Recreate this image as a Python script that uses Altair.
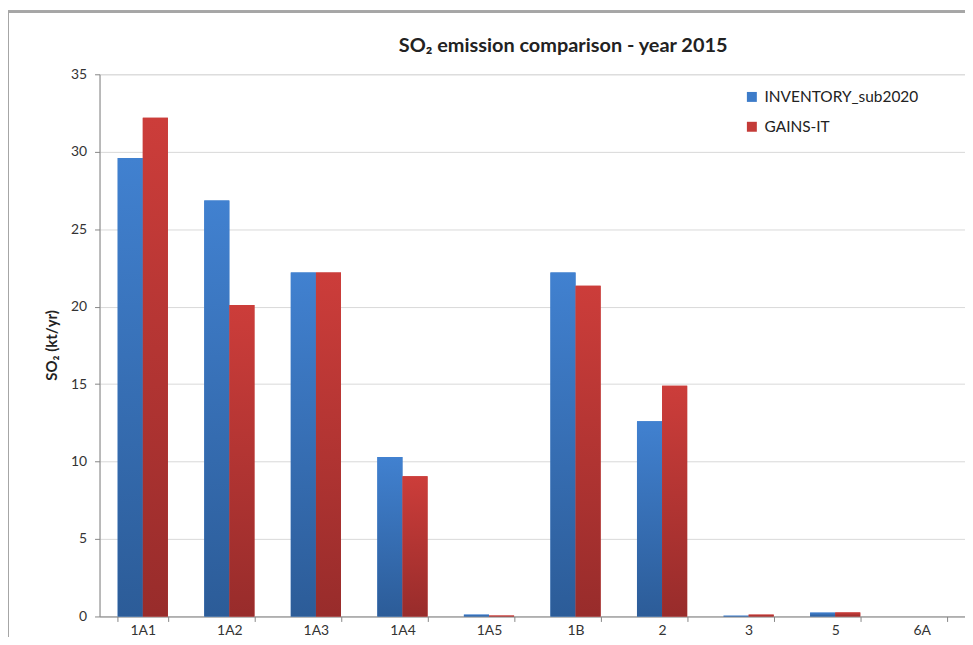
import altair as alt
import pandas as pd

categories = ["1A1", "1A2", "1A3", "1A4", "1A5", "1B", "2", "3", "5", "6A"]
inventory = [29.6, 26.85, 22.2, 10.3, 0.12, 22.2, 12.6, 0.05, 0.25, 0.0]
gains = [32.2, 20.1, 22.2, 9.05, 0.06, 21.35, 14.9, 0.12, 0.26, 0.0]
series = ["INVENTORY_sub2020", "GAINS-IT"]
y_ticks = [0, 5, 10, 15, 20, 25, 30, 35]
title_text = "SO₂ emission comparison - year 2015"

rows = []
for c, a, b in zip(categories, inventory, gains):
    rows.append({"cat": c, "series": series[0], "value": a})
    rows.append({"cat": c, "series": series[1], "value": b})
df = pd.DataFrame(rows)

FONT = "Lato"
AX = "#868686"

x_enc = alt.X("cat:N", sort=categories, title=None,
              scale=alt.Scale(paddingInner=0.42, paddingOuter=0.21),
              axis=alt.Axis(labelAngle=0, labelFontSize=14, labelFont=FONT,
                            labelColor="#333333", labelPadding=2,
                            tickBand="extent", tickSize=5, tickColor=AX,
                            domainColor=AX, grid=False))
xo_enc = alt.XOffset("series:N", sort=series, scale=alt.Scale(domain=series, paddingInner=0))
y_enc = alt.Y("value:Q", title="SO₂ (kt/yr)",
              scale=alt.Scale(domain=[0, 35], nice=False),
              axis=alt.Axis(values=y_ticks, labelFontSize=14, labelFont=FONT,
                            labelColor="#333333", labelPadding=8,
                            tickSize=5, tickColor=AX, domainColor=AX,
                            gridColor="#d9d9d9", titleFont=FONT, titleFontSize=15,
                            titleFontWeight="bold", titleColor="#222222",
                            titleX=-48, titleY=272, titleAngle=270,
                            titleAlign="center", titleBaseline="middle"))

base = alt.Chart(df).mark_bar().encode(
    x=x_enc, xOffset=xo_enc, y=y_enc,
    color=alt.Color("series:N", sort=series,
                    scale=alt.Scale(domain=series, range=["#3d7cc9", "#c43b38"]),
                    legend=alt.Legend(title=None, orient="none", legendX=648, legendY=15,
                                      symbolType="square", symbolSize=100,
                                      symbolStrokeWidth=0, labelFontSize=15.5,
                                      labelFont=FONT, labelColor="#222222",
                                      rowPadding=13, labelOffset=5)),
)

blue_grad = alt.Gradient(gradient="linear",
                         stops=[alt.GradientStop(color="#4181d0", offset=0),
                                alt.GradientStop(color="#2c5c98", offset=1)],
                         x1=0, x2=0, y1=0, y2=1)
red_grad = alt.Gradient(gradient="linear",
                        stops=[alt.GradientStop(color="#cc3d3a", offset=0),
                               alt.GradientStop(color="#982c2b", offset=1)],
                        x1=0, x2=0, y1=0, y2=1)

inv_layer = alt.Chart(df).transform_filter(alt.datum.series == series[0]).mark_bar(
    color=blue_grad).encode(x=x_enc, xOffset=xo_enc, y=y_enc)
gains_layer = alt.Chart(df).transform_filter(alt.datum.series == series[1]).mark_bar(
    color=red_grad).encode(x=x_enc, xOffset=xo_enc, y=y_enc)

frame = alt.Chart(df).mark_rect(filled=False, stroke="#a6a6a6", strokeWidth=2,
                                clip=False).encode(
    x=alt.value(-92), y=alt.value(-63), x2=alt.value(1000), y2=alt.value(700))

title = alt.Chart(pd.DataFrame({"t": [title_text]})).mark_text(
    font=FONT, fontSize=20, fontWeight="bold", color="#222222",
    align="center", baseline="middle", clip=False).encode(
    text="t:N", x=alt.value(466), y=alt.value(-28))

chart = alt.layer(base, inv_layer, gains_layer, frame, title).properties(
    width=870, height=545,
    autosize=alt.AutoSizeParams(type="none"),
    padding={"left": 92, "top": 65, "right": 0, "bottom": 19},
).configure_view(stroke=None).configure(background="white")

chart.save("out.html", embed_options={"renderer": "svg", "actions": False})
